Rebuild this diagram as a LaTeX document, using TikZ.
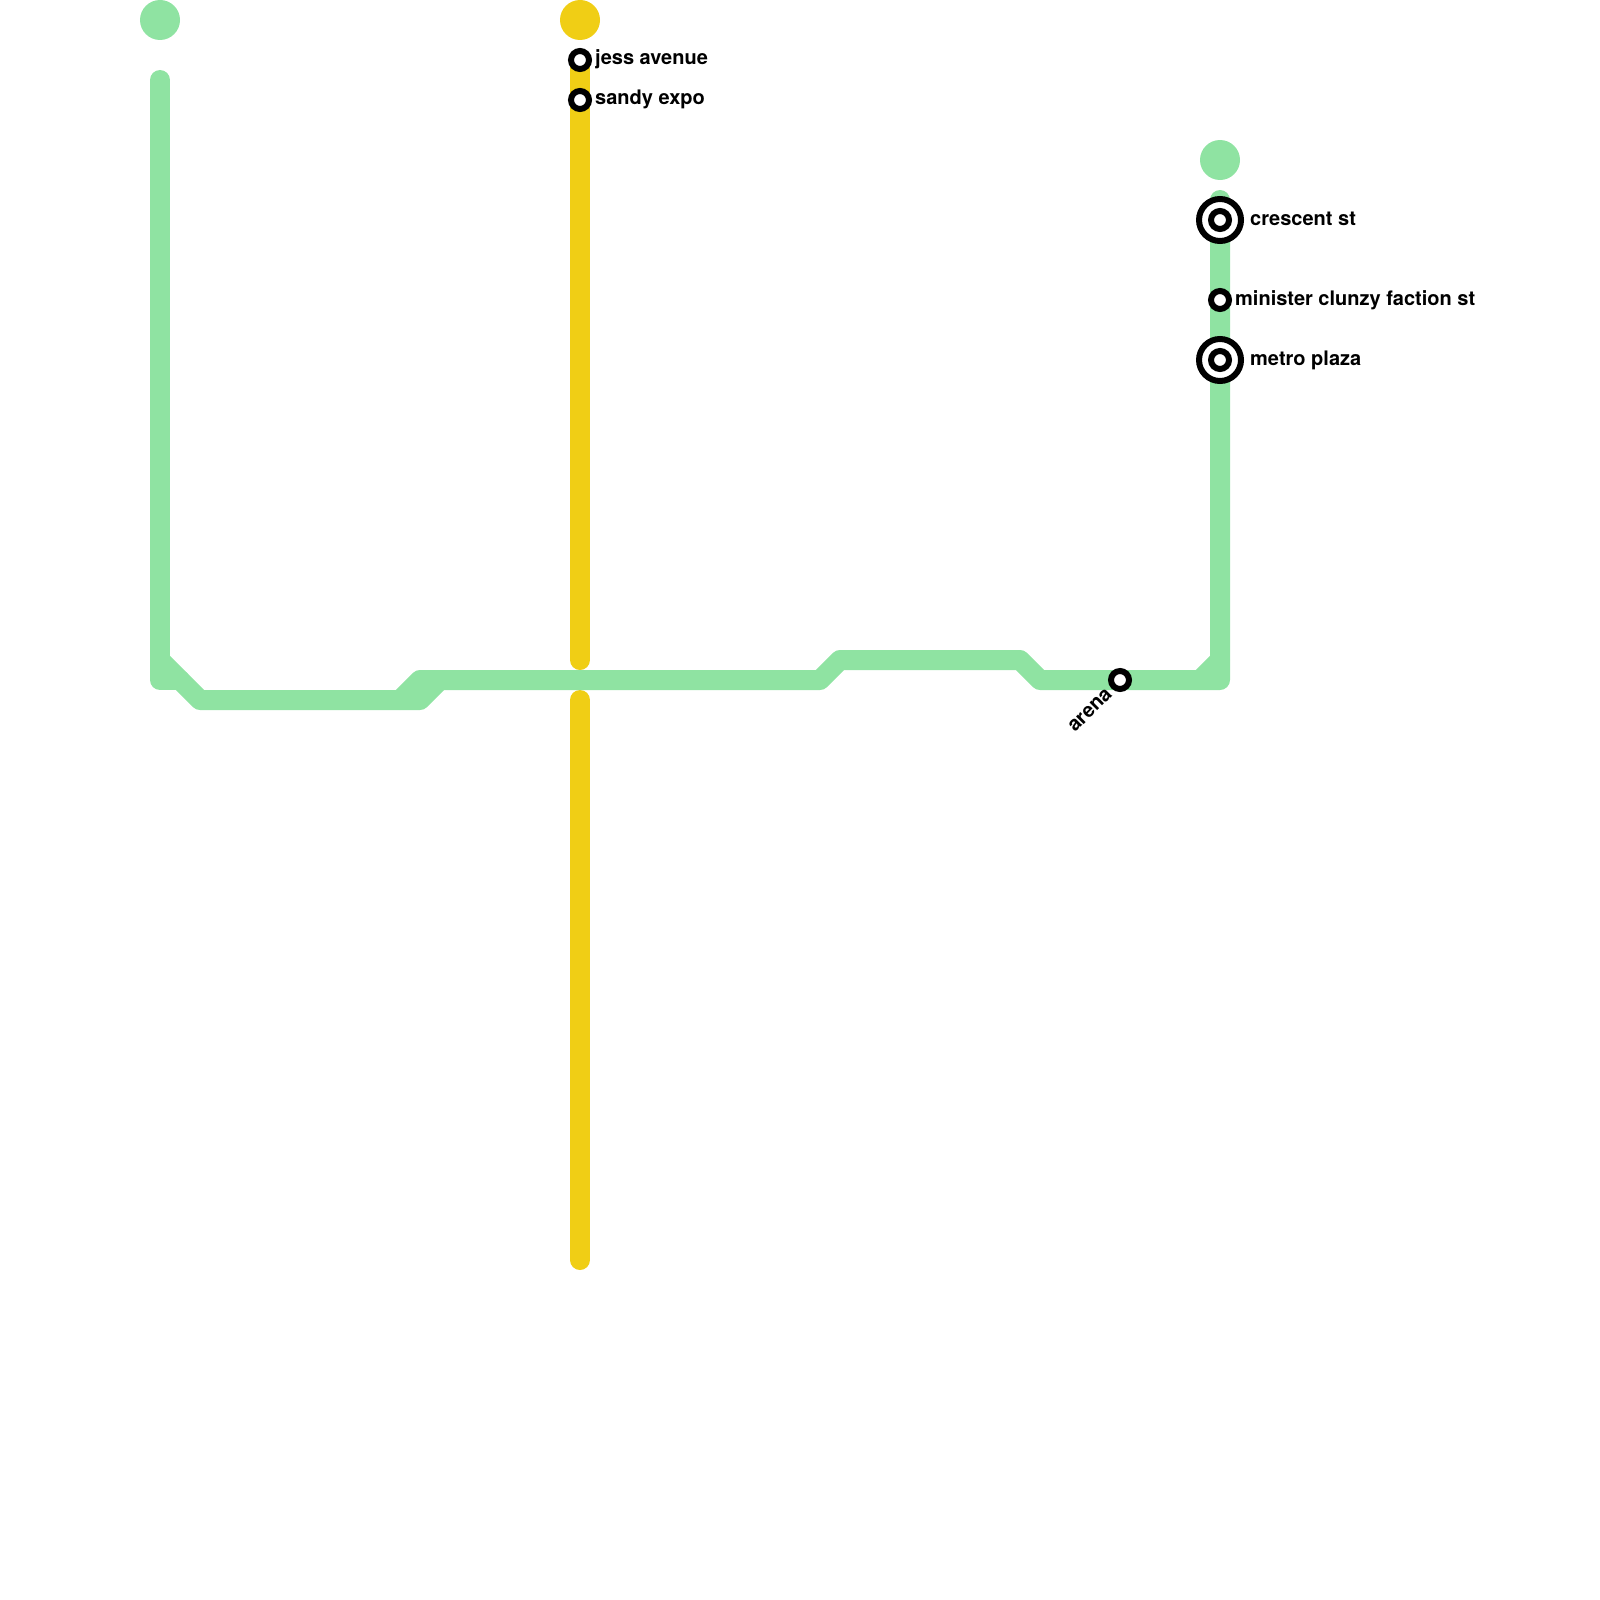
\documentclass[tikz,border=0pt]{standalone}
\usepackage{fontspec}
\setmainfont{TeX Gyre Heros}
\definecolor{gline}{HTML}{8FE3A2}
\definecolor{yline}{HTML}{F0CE15}
\tikzset{
  x=1pt,y=-1pt,
  route/.style={line width=20pt,line cap=round,line join=round},
  terminus/.style={circle,inner sep=0pt,minimum size=40pt,fill=#1},
  stop/.style={circle,inner sep=0pt,minimum size=18pt,draw=black,line width=6pt,fill=white},
  hubring/.style={circle,inner sep=0pt,minimum size=42pt,draw=black,line width=6pt,fill=white},
  lbl/.style={inner sep=0pt,font=\fontsize{20}{20}\selectfont\bfseries,text=black}
}
\begin{document}
\begin{tikzpicture}
\useasboundingbox (0,0) rectangle (1600,1600);
% termini
\node[terminus=gline] (tA) at (160,20) {};
\node[terminus=yline] (tB) at (580,20) {};
\node[terminus=gline] (tC) at (1220,160) {};
% route coordinates
\coordinate (a0) at (160,80);
\coordinate (a1) at (160,680);
\coordinate (a2) at (180,680);
\coordinate (a3) at (160,660);
\coordinate (a4) at (200,700);
\coordinate (a5) at (420,700);
\coordinate (a6) at (440,680);
\coordinate (a7) at (400,700);
\coordinate (a8) at (420,680);
\coordinate (a9) at (820,680);
\coordinate (a10) at (840,660);
\coordinate (a11) at (1020,660);
\coordinate (a12) at (1040,680);
\coordinate (a13) at (1220,680);
\coordinate (a14) at (1220,200);
\coordinate (a15) at (1200,680);
\coordinate (a16) at (1220,660);
\coordinate (y0) at (580,60);
\coordinate (y1) at (580,660);
\coordinate (y2) at (580,700);
\coordinate (y3) at (580,1260);
% yellow route
\draw[route,yline] (y0) -- (y1);
\draw[route,yline] (y2) -- (y3);
% green route
\draw[route,gline] (a0) -- (a1) -- (a2);
\draw[route,gline] (a3) -- (a4) -- (a5) -- (a6);
\draw[route,gline] (a7) -- (a8) -- (a9) -- (a10) -- (a11) -- (a12) -- (a13) -- (a14);
\draw[route,gline] (a15) -- (a16);
% stations
\node[stop] (s1) at (580,60) {};
\node[lbl,anchor=base west] (l1) at (595,65) {jess avenue};
\node[stop] (s2) at (580,100) {};
\node[lbl,anchor=base west] (l2) at (595,105) {sandy expo};
\node[stop] (s3) at (1120,680) {};
\node[lbl,anchor=base east,rotate=45] (l3) at (1113,695) {arena};
\node[hubring] (h1) at (1220,220) {};
\node[stop] (s4) at (1220,220) {};
\node[lbl,anchor=base west] (l4) at (1250,225) {crescent st};
\node[stop] (s5) at (1220,300) {};
\node[lbl,anchor=base west] (l5) at (1235,305) {minister clunzy faction st};
\node[hubring] (h2) at (1220,360) {};
\node[stop] (s6) at (1220,360) {};
\node[lbl,anchor=base west] (l6) at (1250,365) {metro plaza};
\end{tikzpicture}
\end{document}
